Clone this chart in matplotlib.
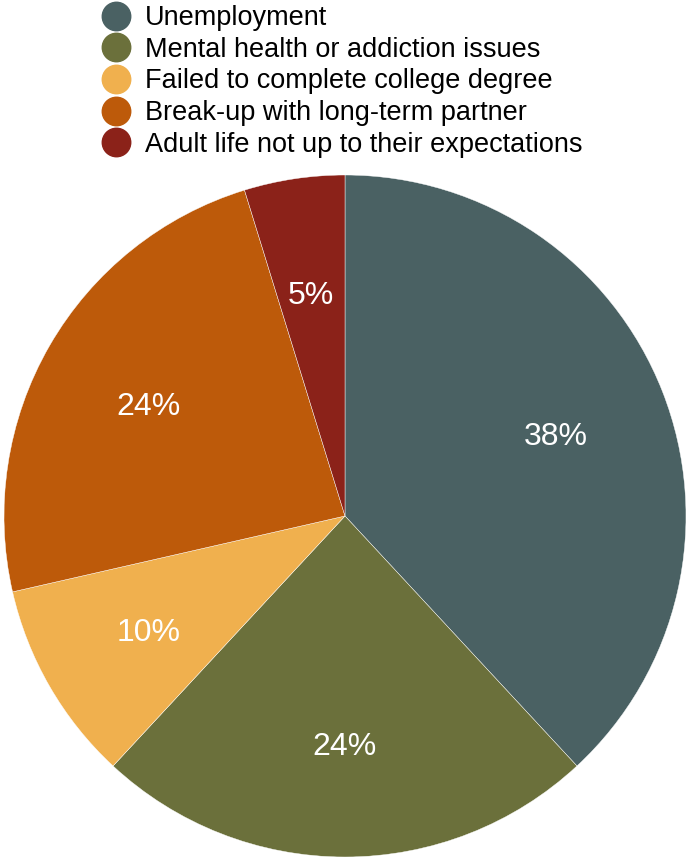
import matplotlib
matplotlib.use("Agg")
import matplotlib.pyplot as plt
from matplotlib.lines import Line2D

plt.rcParams['font.family'] = ['Liberation Sans', 'DejaVu Sans']

# reasons given, counts per category
reasons = [
    "Unemployment",
    "Mental health or addiction issues",
    "Failed to complete college degree",
    "Break-up with long-term partner",
    "Adult life not up to their expectations",
]
counts = [8, 5, 2, 5, 1]
colors = ["#4a6163", "#6b703b", "#f0b04e", "#bd5a0a", "#8b2219"]

W, H = 686, 859
fig = plt.figure(figsize=(W / 100, H / 100), dpi=100)

# pie area in pixels: left 4, right 686, top 175, bottom 857
ax = fig.add_axes([4 / W, (H - 857) / H, 682 / W, 682 / H])
wedges, texts, autotexts = ax.pie(
    counts, colors=colors, startangle=90, counterclock=False,
    autopct='%.0f%%', pctdistance=0.665, radius=1.0,
    wedgeprops=dict(edgecolor='white', linewidth=0.3),
    textprops=dict(color='white', fontsize=23),
)
# nudge the percentage labels down a touch
for t in autotexts:
    t.set_y(t.get_position()[1] - 0.012)
ax.set_xlim(-1, 1)
ax.set_ylim(-1, 1)
ax.set_aspect('equal')
ax.axis('off')

handles = [Line2D([0], [0], marker='o', linestyle='none', markersize=20.5,
                  markerfacecolor=c, markeredgecolor=c) for c in colors]
fig.legend(handles, reasons, loc='upper left',
           bbox_to_anchor=(102.5 / W, 1 - 5 / H), frameon=False,
           fontsize=19.5, labelspacing=0.21, handlelength=1.0,
           handletextpad=0.57, borderpad=0.0, borderaxespad=0.0)

fig.savefig("out.png", dpi=100)
